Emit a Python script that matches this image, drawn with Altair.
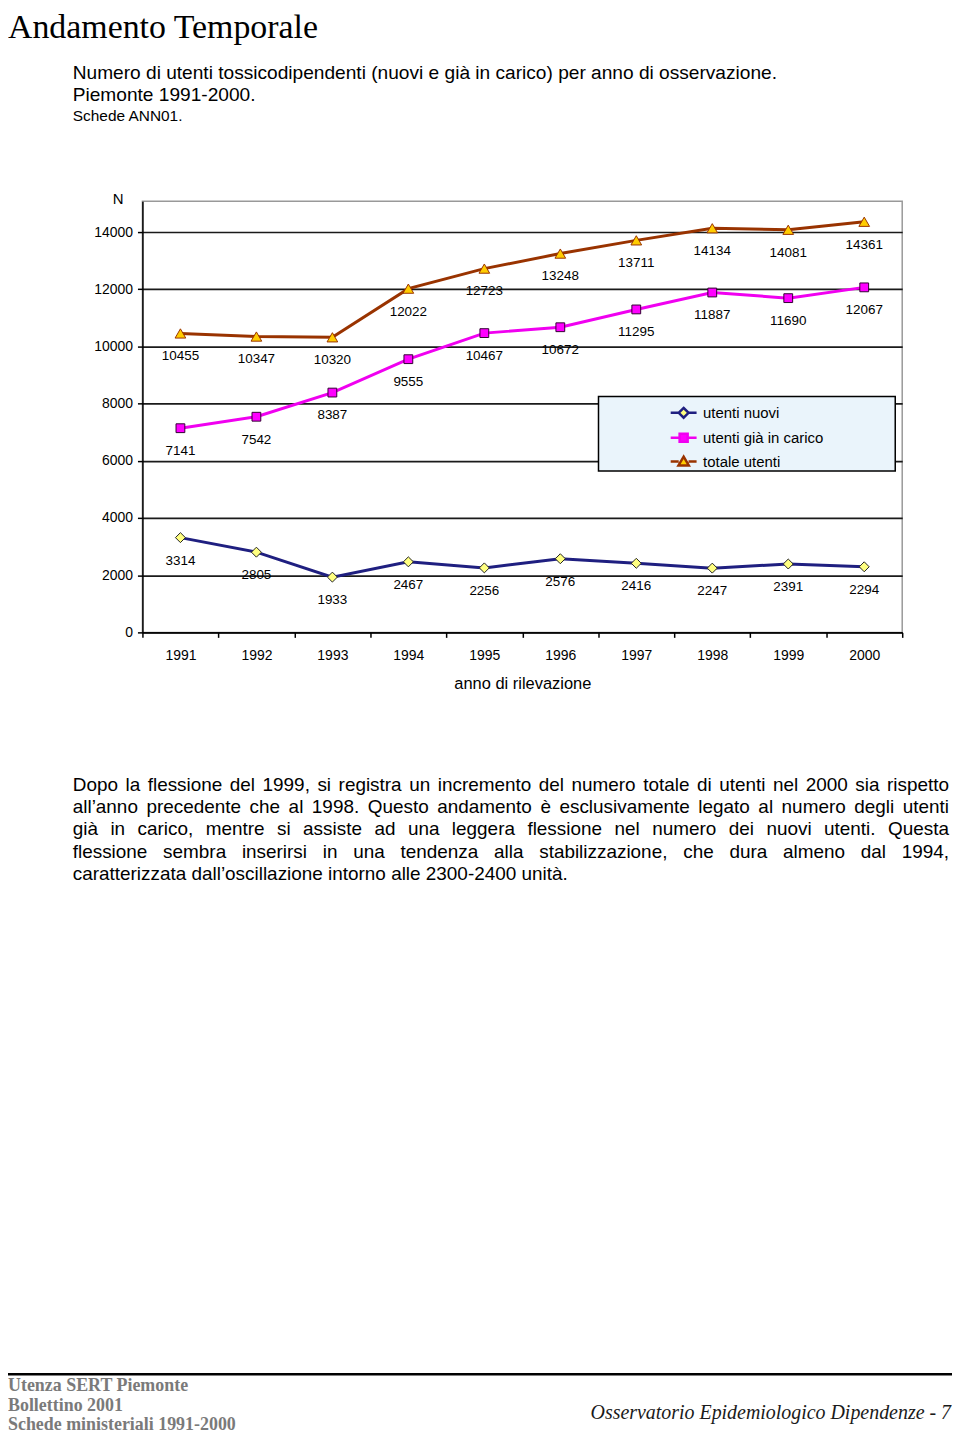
import altair as alt
import pandas as pd

# ---------------- data ----------------
anni = ["1991", "1992", "1993", "1994", "1995", "1996", "1997", "1998", "1999", "2000"]
serie = ["utenti nuovi", "utenti già in carico", "totale utenti"]
utenti_nuovi = [3314, 2805, 1933, 2467, 2256, 2576, 2416, 2247, 2391, 2294]
utenti_gia_in_carico = [7141, 7542, 8387, 9555, 10467, 10672, 11295, 11887, 11690, 12067]
totale_utenti = [10455, 10347, 10320, 12022, 12723, 13248, 13711, 14134, 14081, 14361]
y_ticks = [0, 2000, 4000, 6000, 8000, 10000, 12000, 14000]

titolo = "Andamento Temporale"
sottotitolo = [
    "Numero di utenti tossicodipendenti (nuovi e già in carico) per anno di osservazione.",
    "Piemonte 1991-2000.",
    "Schede ANN01.",
]
x_title = "anno di rilevazione"
y_title = "N"
paragrafo = [
    "Dopo la flessione del 1999, si registra un incremento del numero totale di utenti nel 2000 sia rispetto",
    "all’anno precedente che al 1998. Questo andamento è esclusivamente legato al numero degli utenti",
    "già in carico, mentre si assiste ad una leggera flessione nel numero dei nuovi utenti. Questa",
    "flessione sembra inserirsi in una tendenza alla stabilizzazione, che dura almeno dal 1994,",
    "caratterizzata dall’oscillazione intorno alle 2300-2400 unità.",
]
footer_sx = ["Utenza SERT Piemonte", "Bollettino 2001", "Schede ministeriali 1991-2000"]
footer_dx = "Osservatorio Epidemiologico Dipendenze - 7"

# ---------------- styles ----------------
line_colors = ["#1f1f80", "#f000f0", "#993300"]
marker_fills = ["#ffff80", "#ff00ff", "#ffcc00"]
legend_paths = [
    "M-1,0L-0.38,0M0.38,0L1,0M0,-0.38L0.38,0L0,0.38L-0.38,0Z",
    "M-1,0L-0.33,0M0.33,0L1,0M-0.31,-0.31L0.31,-0.31L0.31,0.31L-0.31,0.31Z",
    "M-1,0L-0.38,0M0.38,0L1,0M0,-0.38L0.4,0.3L-0.4,0.3Z",
]
SANS = "Liberation Sans"
SERIF = "Liberation Serif"

OX, OY = 143, 199      # page position of plot origin
W, H = 763, 433        # plot area size
Y_MAX = 15080

rows = []
for s, vals in zip(serie, [utenti_nuovi, utenti_gia_in_carico, totale_utenti]):
    for a, v in zip(anni, vals):
        rows.append({"anno": a, "serie": s, "valore": v})
df = pd.DataFrame(rows)

x_enc = alt.X(
    "anno:O",
    scale=alt.Scale(type="band", paddingInner=0, paddingOuter=0),
    axis=alt.Axis(
        title=x_title, labelAngle=0, tickBand="extent", tickSize=5, labelPadding=11,
        labelFontSize=14, labelColor="black", titleFontSize=16.5, titleFontWeight="normal",
        titleColor="black", titlePadding=13, domainColor="black", domainWidth=1.5,
        tickColor="black", tickWidth=1.5, grid=False,
    ),
)
y_enc = alt.Y(
    "valore:Q",
    scale=alt.Scale(domain=[0, Y_MAX], nice=False, zero=True),
    axis=alt.Axis(
        values=y_ticks, format="d", tickSize=5, labelPadding=5, labelFontSize=14,
        labelColor="black", grid=True, gridColor="#1a1a1a", gridWidth=1.6,
        domainColor="black", domainWidth=1.5, tickColor="black", tickWidth=1.5,
        title=y_title, titleAngle=0, titleX=-25, titleY=-3, titleAlign="center",
        titleBaseline="middle", titleFontSize=15, titleFontWeight="normal", titleColor="black",
    ),
)

base = alt.Chart(df).encode(x=x_enc, y=y_enc)


def make_legend():
    return alt.Legend(
        orient="none", legendX=529, legendY=198, title=None, symbolSize=676,
        symbolStrokeWidth=2.5, symbolOpacity=1, labelFontSize=15, labelOffset=5,
        rowPadding=-1, padding=0, zindex=1, labelColor="black", labelFont=SANS,
    )


lines = base.mark_line(strokeWidth=3).encode(
    stroke=alt.Stroke("serie:N", scale=alt.Scale(domain=serie, range=line_colors), legend=make_legend())
)

# legend-only layer (no rows survive the filter): gives the legend its line+marker symbols
legend_layer = alt.Chart(df).transform_filter("false").mark_point(filled=True, strokeWidth=2.5).encode(
    shape=alt.Shape("serie:N", scale=alt.Scale(domain=serie, range=legend_paths), legend=make_legend()),
    fill=alt.Fill("serie:N", scale=alt.Scale(domain=serie, range=marker_fills), legend=make_legend()),
    stroke=alt.Stroke("serie:N", scale=alt.Scale(domain=serie, range=line_colors), legend=make_legend()),
)

marker_styles = [
    dict(shape="diamond", size=100, fill="#ffff80", stroke="#222222"),
    dict(shape="square", size=78, fill="#ff00ff", stroke="#330033"),
    dict(shape="triangle-up", size=115, fill="#ffcc00", stroke="#993300"),
]
points = [
    base.transform_filter(alt.datum.serie == s).mark_point(
        filled=True, opacity=1, strokeWidth=1, **st
    )
    for s, st in zip(serie, marker_styles)
]

labels = base.mark_text(dy=23, fontSize=13.5, color="black", font=SANS).encode(text="valore:Q")

one = pd.DataFrame({"k": [0]})
legend_box = alt.Chart(one).mark_rect(fill="#eaf4fb", stroke="black", strokeWidth=1.5).encode(
    x=alt.value(601 - OX), x2=alt.value(899 - OX), y=alt.value(395 - OY), y2=alt.value(470 - OY)
)


def note(text, px, py, size, font=SANS, align="left", baseline="middle", **kw):
    return alt.Chart(pd.DataFrame({"t": [text]})).mark_text(
        align=align, baseline=baseline, fontSize=size, font=font, **kw
    ).encode(x=alt.value(px - OX), y=alt.value(py - OY), text="t:N")


# Helvetica/Arial metrics for justified paragraph
CW = {" ": 278, ",": 278, ".": 278, "-": 333, "’": 222, "'": 191, "(": 333, ")": 333}
CW.update({d: 556 for d in "0123456789"})
CW.update(dict(zip("abcdefghijklmnopqrstuvwxyz",
                   [556, 556, 500, 556, 556, 278, 556, 556, 222, 222, 500, 222, 833,
                    556, 556, 556, 556, 333, 500, 278, 556, 500, 722, 500, 500, 500])))
CW.update({"à": 556, "è": 556, "é": 556, "ù": 556, "ò": 556, "ì": 278, "D": 722, "Q": 778})


def tw(s, size):
    return sum(CW.get(c, 556) for c in s) * size / 1000.0


notes = []
notes.append(note(titolo, 8, 35, 34, font=SERIF, baseline="alphabetic", color="black"))
notes.append(note(sottotitolo[0], 73, 70, 19.2, color="black"))
notes.append(note(sottotitolo[1], 73, 92, 19.2, color="black"))
notes.append(note(sottotitolo[2], 73, 113, 15.5, color="black"))

P_SIZE = 19
P_LEFT, P_RIGHT = 73, 953
p_y = [785, 807, 829, 853, 875]
for i, (line, yy) in enumerate(zip(paragrafo, p_y)):
    if i == len(paragrafo) - 1:
        notes.append(note(line, P_LEFT, yy, P_SIZE, color="black"))
        continue
    words = line.split(" ")
    ws = [tw(w, P_SIZE) for w in words]
    gap = (P_RIGHT - P_LEFT - sum(ws)) / (len(words) - 1)
    xx = P_LEFT
    for j, (w, wl) in enumerate(zip(words, ws)):
        if j == len(words) - 1:
            notes.append(note(w, P_RIGHT, yy, P_SIZE, align="right", color="black"))
        else:
            notes.append(note(w, xx, yy, P_SIZE, color="black"))
        xx += wl + gap

rule = alt.Chart(one).mark_rule(color="black", strokeWidth=2.5).encode(
    x=alt.value(8 - OX), x2=alt.value(956 - OX), y=alt.value(1377 - OY)
)
for txt, yy in zip(footer_sx, [1389, 1409, 1428]):
    notes.append(note(txt, 8, yy, 18, font=SERIF, fontWeight="bold", color="#7a7a7a"))
notes.append(note(footer_dx, 955, 1416, 20, font=SERIF, align="right", fontStyle="italic", color="#1a1a1a"))

chart = alt.layer(legend_box, lines, legend_layer, *points, labels, rule, *notes).properties(
    width=W, height=H,
    autosize=alt.AutoSizeParams(type="none"),
    padding={"left": OX - 8, "top": OY - 8, "right": 50, "bottom": 1428 - (OY - 8) - H},
    background="white",
).configure(font=SANS).configure_view(stroke="#999999", strokeWidth=1.5)

chart.save("out.html", embed_options={"renderer": "svg", "actions": False})
